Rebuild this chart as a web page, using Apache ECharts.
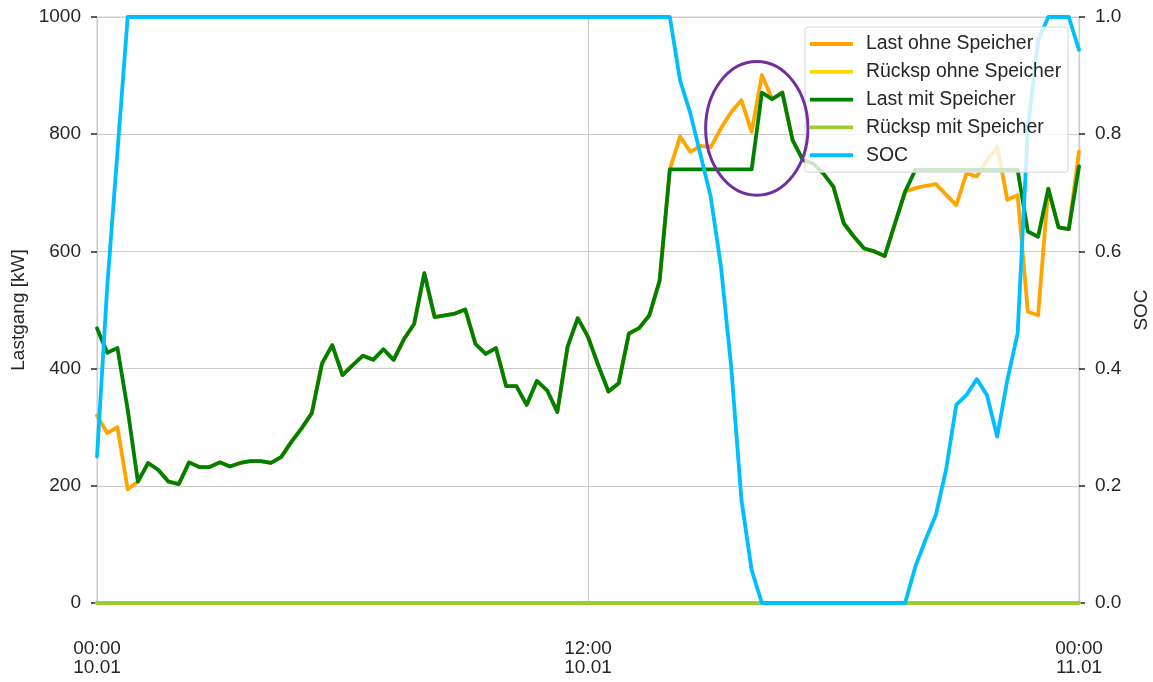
<!DOCTYPE html>
<html>
<head>
<meta charset="utf-8">
<script src="https://cdn.jsdelivr.net/npm/echarts@6/dist/echarts.min.js"></script>
<style>
  html, body { margin: 0; padding: 0; background: #ffffff; }
  #chart { width: 1153px; height: 682px; }
</style>
</head>
<body>
<div id="chart"></div>
<script>
// Quarter-hour load profile for one day (10.01 00:00 to 11.01 00:00, 97 samples)
const tickLabels = ["00:00\n10.01", "12:00\n10.01", "00:00\n11.01"];

const lastOhneSpeicher = [
  320, 290, 300, 194, 207, 239, 227, 207, 203, 240,
  232, 232, 240, 233, 239, 242, 242, 239, 249, 275,
  298, 324, 409, 440, 389, 406, 422, 415, 433, 415,
  450, 476, 563, 488, 491, 494, 501, 442, 425, 435,
  370, 370, 338, 379, 363, 326, 437, 486, 454, 406,
  361, 375, 460, 469, 491, 550, 740, 796, 770, 780,
  778, 810, 838, 858, 804, 901, 860, 871, 790, 756,
  750, 733, 710, 648, 625, 605, 600, 592, 647, 702,
  708, 712, 715, 697, 679, 733, 728, 755, 779, 688,
  696, 497, 491, 707, 641, 638, 770
];

const rueckspOhneSpeicher = [
  0, 0, 0, 0, 0, 0, 0, 0, 0, 0, 0, 0, 0, 0, 0, 0, 0, 0, 0, 0,
  0, 0, 0, 0, 0, 0, 0, 0, 0, 0, 0, 0, 0, 0, 0, 0, 0, 0, 0, 0,
  0, 0, 0, 0, 0, 0, 0, 0, 0, 0, 0, 0, 0, 0, 0, 0, 0, 0, 0, 0,
  0, 0, 0, 0, 0, 0, 0, 0, 0, 0, 0, 0, 0, 0, 0, 0, 0, 0, 0, 0,
  0, 0, 0, 0, 0, 0, 0, 0, 0, 0, 0, 0, 0, 0, 0, 0, 0
];

const lastMitSpeicher = [
  469, 427, 435, 330, 207, 239, 227, 207, 203, 240,
  232, 232, 240, 233, 239, 242, 242, 239, 249, 275,
  298, 324, 409, 440, 389, 406, 422, 415, 433, 415,
  450, 476, 563, 488, 491, 494, 501, 442, 425, 435,
  370, 370, 338, 379, 363, 326, 437, 486, 454, 406,
  361, 375, 460, 469, 491, 550, 740, 740, 740, 740,
  740, 740, 740, 740, 740, 871, 860, 871, 790, 756,
  750, 733, 710, 648, 625, 605, 600, 592, 647, 702,
  739, 739, 739, 739, 739, 739, 739, 739, 739, 739,
  739, 634, 625, 707, 641, 638, 745
];

const rueckspMitSpeicher = [
  0, 0, 0, 0, 0, 0, 0, 0, 0, 0, 0, 0, 0, 0, 0, 0, 0, 0, 0, 0,
  0, 0, 0, 0, 0, 0, 0, 0, 0, 0, 0, 0, 0, 0, 0, 0, 0, 0, 0, 0,
  0, 0, 0, 0, 0, 0, 0, 0, 0, 0, 0, 0, 0, 0, 0, 0, 0, 0, 0, 0,
  0, 0, 0, 0, 0, 0, 0, 0, 0, 0, 0, 0, 0, 0, 0, 0, 0, 0, 0, 0,
  0, 0, 0, 0, 0, 0, 0, 0, 0, 0, 0, 0, 0, 0, 0, 0, 0
];

const soc = [
  0.25, 0.54, 0.77, 1.0, 1.0, 1.0, 1.0, 1.0, 1.0, 1.0,
  1.0, 1.0, 1.0, 1.0, 1.0, 1.0, 1.0, 1.0, 1.0, 1.0,
  1.0, 1.0, 1.0, 1.0, 1.0, 1.0, 1.0, 1.0, 1.0, 1.0,
  1.0, 1.0, 1.0, 1.0, 1.0, 1.0, 1.0, 1.0, 1.0, 1.0,
  1.0, 1.0, 1.0, 1.0, 1.0, 1.0, 1.0, 1.0, 1.0, 1.0,
  1.0, 1.0, 1.0, 1.0, 1.0, 1.0, 1.0, 0.892, 0.836, 0.765,
  0.693, 0.574, 0.403, 0.176, 0.056, 0.0, 0.0, 0.0, 0.0, 0.0,
  0.0, 0.0, 0.0, 0.0, 0.0, 0.0, 0.0, 0.0, 0.0, 0.0,
  0.062, 0.108, 0.150, 0.227, 0.338, 0.355, 0.382, 0.355, 0.284, 0.381,
  0.460, 0.81, 0.96, 1.0, 1.0, 1.0, 0.944
];

// Category slots: one per quarter hour; only 00:00 / 12:00 / 00:00 are labelled
const slots = lastMitSpeicher.map((_, i) => i);
const labelEvery = 48;

const textColor = '#262626';
const gridColor = '#cccccc';
const fontFamily = '"Liberation Sans", Arial, sans-serif';
const fontSize = 19;

const chart = echarts.init(document.getElementById('chart'), null, { renderer: 'canvas' });

function lineSeries(name, data, color, yAxisIndex, z) {
  return {
    name, type: 'line', data, yAxisIndex, z,
    showSymbol: false, symbol: 'none',
    lineStyle: { color, width: 3.8, join: 'round', cap: 'round' },
    itemStyle: { color },
    emphasis: { disabled: true },
    animation: false
  };
}

chart.setOption({
  animation: false,
  textStyle: { fontFamily },
  grid: {
    left: 97, right: 74, top: 17, bottom: 79,
    outerBoundsMode: 'none',
    containLabel: false,
    show: true, borderColor: gridColor, borderWidth: 1, backgroundColor: 'transparent'
  },
  legend: {
    orient: 'vertical',
    left: 805, top: 27,
    padding: [7, 7, 7, 5],
    itemGap: 7.8,
    itemWidth: 43, itemHeight: 3.8,
    icon: 'rect',
    backgroundColor: 'rgba(255,255,255,0.8)',
    borderColor: '#d6d6d6', borderWidth: 1, borderRadius: 3,
    textStyle: { color: textColor, fontSize: 19.4, lineHeight: 20, padding: [0, 0, 0, 8], fontFamily },
    data: ['Last ohne Speicher', 'Rücksp ohne Speicher', 'Last mit Speicher', 'Rücksp mit Speicher', 'SOC']
  },
  xAxis: {
    type: 'category',
    data: slots,
    boundaryGap: false,
    axisLine: { show: false },
    axisTick: { show: false },
    axisLabel: {
      interval: (i) => i % labelEvery === 0,
      formatter: (v, i) => tickLabels[i / labelEvery] || '',
      color: textColor, fontSize, lineHeight: 19, margin: 36, fontFamily
    },
    splitLine: {
      show: true,
      interval: (i) => i % labelEvery === 0,
      lineStyle: { color: gridColor, width: 1.2 }
    }
  },
  yAxis: [
    {
      type: 'value', min: 0, max: 1000, interval: 200,
      name: 'Lastgang [kW]', nameLocation: 'middle', nameGap: 65, nameRotate: 90,
      nameTextStyle: { color: textColor, fontSize, fontFamily },
      axisLine: { show: false },
      axisTick: { show: true, length: 6, lineStyle: { color: textColor, width: 1.5 } },
      axisLabel: { color: textColor, fontSize, margin: 16, formatter: (v) => String(v), fontFamily },
      splitLine: { show: true, lineStyle: { color: gridColor, width: 1.2 } }
    },
    {
      type: 'value', min: 0, max: 1, interval: 0.2, position: 'right',
      name: 'SOC', nameLocation: 'middle', nameGap: 50, nameRotate: 90,
      nameTextStyle: { color: textColor, fontSize, fontFamily },
      axisLine: { show: false },
      axisTick: { show: true, length: 6, lineStyle: { color: textColor, width: 1.5 } },
      axisLabel: { color: textColor, fontSize, margin: 16, formatter: (v) => v.toFixed(1), fontFamily },
      splitLine: { show: false }
    }
  ],
  series: [
    lineSeries('Last ohne Speicher', lastOhneSpeicher, '#FFA500', 0, 2),
    lineSeries('Rücksp ohne Speicher', rueckspOhneSpeicher, '#FFD700', 0, 2),
    lineSeries('Last mit Speicher', lastMitSpeicher, '#008000', 0, 2),
    lineSeries('Rücksp mit Speicher', rueckspMitSpeicher, '#9ACD32', 0, 2),
    lineSeries('SOC', soc, '#00BFFF', 1, 3)
  ]
});

// Highlight ring around the evening peak: centred between slots 64 and 65,
// spanning five quarter-hour slots either side and ±114 kW around 810 kW
const ringSlots = [64, 65];
const ringHalfSlots = 5;
const ringCenterKW = 810;
const ringHalfKW = 114;
const toPx = (p) => chart.convertToPixel({ xAxisIndex: 0, yAxisIndex: 0 }, p);
const pA = toPx([ringSlots[0], ringCenterKW]);
const pB = toPx([ringSlots[1], ringCenterKW]);
const pW = toPx([ringSlots[0] + ringHalfSlots, ringCenterKW + ringHalfKW]);
const cx = (pA[0] + pB[0]) / 2;
const cy = pA[1];
chart.setOption({
  graphic: [{
    type: 'ellipse',
    z: 10,
    shape: { cx, cy, rx: Math.abs(pW[0] - pA[0]), ry: Math.abs(cy - pW[1]) },
    style: { fill: 'none', stroke: '#7030A0', lineWidth: 3 },
    silent: true
  }]
});
</script>
</body>
</html>
